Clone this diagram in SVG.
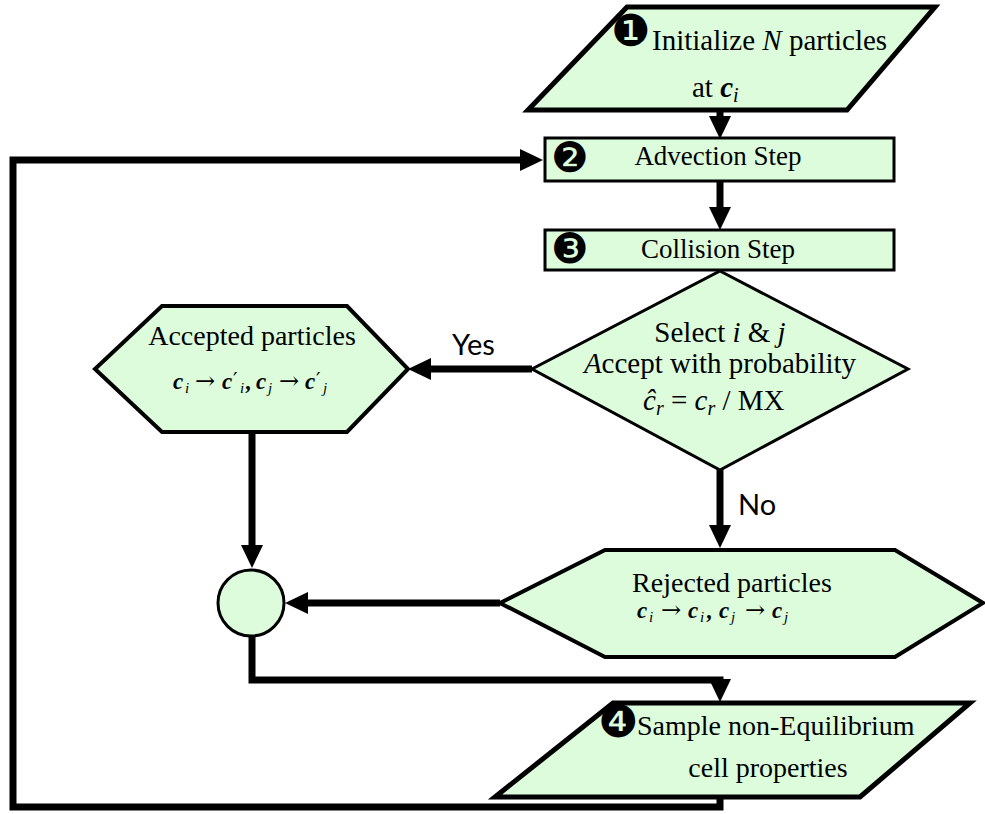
<svg xmlns="http://www.w3.org/2000/svg" width="985" height="814" viewBox="0 0 985 814">
<style>
.shape{fill:#dcfcdc;stroke:#000;stroke-linejoin:miter}
.t{font-family:"Liberation Serif","Times New Roman",serif;fill:#000}
.s{font-family:Lato,"Liberation Sans",sans-serif;fill:#000}
.num{font-family:"DejaVu Sans",sans-serif;fill:#000}
.bc{font-weight:bold;font-style:italic;font-size:23px}
.it{font-style:italic}
.sub{font-style:italic;font-size:15px}
.arr{font-family:"DejaVu Serif",serif;font-size:24px}
.pr{font-family:"DejaVu Serif",serif;font-size:20px}
.conn{fill:none;stroke:#000;stroke-width:7;stroke-linejoin:miter}
</style>
<defs>
<marker id="ah" markerUnits="userSpaceOnUse" markerWidth="24" markerHeight="22" refX="12" refY="11" orient="auto">
<path d="M0,0 L23,11 L0,22 z" fill="#000"/>
</marker>
</defs>
<rect width="985" height="814" fill="#fff"/>
<g id="connectors">
<path class="conn" d="M720,110 V128" marker-end="url(#ah)"/>
<path class="conn" d="M720,181 V219" marker-end="url(#ah)"/>
<path class="conn" d="M532,369 H419" marker-end="url(#ah)"/>
<path class="conn" d="M720,470 V537" marker-end="url(#ah)"/>
<path class="conn" d="M252,432 V557" marker-end="url(#ah)"/>
<path class="conn" d="M500,603 H296" marker-end="url(#ah)"/>
<path class="conn" d="M252,636 V680 H720 V691" marker-end="url(#ah)"/>
<path class="conn" d="M720,797 V807 H13 V160 H532" marker-end="url(#ah)"/>
<text class="s" x="452" y="355" font-size="29">Yes</text>
<text class="s" x="738" y="515" font-size="29">No</text>
</g>
<g id="init">
<polygon class="shape" stroke-width="5" points="627,7 935,7 847,110 528,110"/>
<text class="num" x="611" y="46" font-size="44">❶</text>
<text class="t" x="652" y="50" font-size="29">Initialize <tspan class="it">N</tspan> particles</text>
<text class="t" x="692" y="97" font-size="29">at <tspan font-weight="bold" font-style="italic">c</tspan><tspan class="it" font-size="20" dy="5">i</tspan></text>
</g>
<g id="advection">
<rect class="shape" stroke-width="3" x="545" y="138" width="349" height="43"/>
<text class="num" x="551" y="172" font-size="42">❷</text>
<text class="t" x="718" y="165" font-size="27" text-anchor="middle">Advection Step</text>
</g>
<g id="collision">
<rect class="shape" stroke-width="3" x="545" y="230" width="349" height="40"/>
<text class="num" x="551" y="263" font-size="42">❸</text>
<text class="t" x="718" y="258" font-size="27" text-anchor="middle">Collision Step</text>
</g>
<g id="decision">
<polygon class="shape" stroke-width="3" points="720,271 908,369 720,470 532,369"/>
<text class="t" x="720" y="342" font-size="29" text-anchor="middle">Select <tspan class="it">i</tspan> &amp; <tspan class="it">j</tspan></text>
<text class="t" x="720" y="373" font-size="29" text-anchor="middle"><tspan class="it">A</tspan>ccept with probability</text>
<text class="t" x="643" y="410" font-size="29"><tspan class="it">ĉ</tspan><tspan class="it" font-size="20" dy="5">r</tspan><tspan dy="-5"> = </tspan><tspan class="it">c</tspan><tspan class="it" font-size="20" dy="5">r</tspan><tspan dy="-5"> / MX</tspan></text>
</g>
<g id="accepted">
<polygon class="shape" stroke-width="4" points="162,306 347,306 408,369 347,432 162,432 95,369"/>
<text class="t" x="252" y="345" font-size="28" text-anchor="middle">Accepted particles</text>
<text class="t" y="389"><tspan class="bc" x="173">c</tspan><tspan class="sub" x="185" y="393">i</tspan><tspan class="arr" x="195" y="389">→</tspan><tspan class="bc" x="222" y="389">c</tspan><tspan class="pr" x="233" y="387">′</tspan><tspan class="sub" x="240" y="393">i</tspan><tspan class="bc" x="246" y="389">,</tspan><tspan class="bc" x="256" y="389">c</tspan><tspan class="sub" x="268" y="393">j</tspan><tspan class="arr" x="279" y="389">→</tspan><tspan class="bc" x="305" y="389">c</tspan><tspan class="pr" x="316" y="387">′</tspan><tspan class="sub" x="323" y="393">j</tspan></text>
</g>
<g id="merge">
<circle class="shape" stroke-width="3" cx="251" cy="603" r="33"/>
</g>
<g id="rejected">
<polygon class="shape" stroke-width="4" points="605,550 895,550 983,603 895,657 605,657 500,603"/>
<text class="t" x="732" y="592" font-size="28" text-anchor="middle">Rejected particles</text>
<text class="t" y="618"><tspan class="bc" x="637">c</tspan><tspan class="sub" x="649" y="622">i</tspan><tspan class="arr" x="661" y="618">→</tspan><tspan class="bc" x="688" y="618">c</tspan><tspan class="sub" x="700" y="622">i</tspan><tspan class="bc" x="707" y="618">,</tspan><tspan class="bc" x="719" y="618">c</tspan><tspan class="sub" x="731" y="622">j</tspan><tspan class="arr" x="745" y="618">→</tspan><tspan class="bc" x="772" y="618">c</tspan><tspan class="sub" x="784" y="622">j</tspan></text>
</g>
<g id="sample">
<polygon class="shape" stroke-width="5" points="613,703 970,703 860,797 495,797"/>
<text class="num" x="598" y="737" font-size="45">❹</text>
<text class="t" x="637" y="735" font-size="28">Sample non-Equilibrium</text>
<text class="t" x="768" y="777" font-size="28" text-anchor="middle">cell properties</text>
</g>
</svg>
